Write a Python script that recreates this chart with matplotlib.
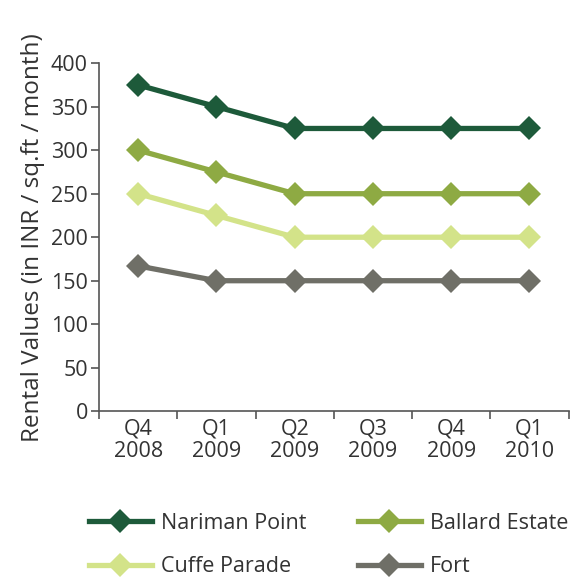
import numpy as np
import matplotlib
matplotlib.use("Agg")
import matplotlib.pyplot as plt

quarters = ["Q4\n2008", "Q1\n2009", "Q2\n2009", "Q3\n2009", "Q4\n2009", "Q1\n2010"]
nariman_point = [375, 350, 325, 325, 325, 325]
ballard_estate = [300, 275, 250, 250, 250, 250]
cuffe_parade = [250, 225, 200, 200, 200, 200]
fort = [167, 150, 150, 150, 150, 150]

series = [
    ("Nariman Point", nariman_point, "#1d5a3a"),
    ("Ballard Estate", ballard_estate, "#8eaa43"),
    ("Cuffe Parade", cuffe_parade, "#d3e389"),
    ("Fort", fort, "#6f6f67"),
]

plt.rcParams["font.family"] = ["Open Sans", "DejaVu Sans"]
text_color = "#333333"


def main():
    fig = plt.figure(figsize=(5.76, 5.80), dpi=100)
    ax = fig.add_axes([0.172, 0.291, 0.815, 0.6])
    ind = np.arange(len(quarters))

    lines = {}
    for name, vals, col in series:
        lines[name], = ax.plot(ind, vals, color=col, lw=3.8, marker="D",
                               markersize=12, markeredgewidth=0, label=name)

    ax.set_xlim(-0.5, len(quarters) - 0.5)
    ax.set_ylim(0, 400)
    ax.set_yticks(np.arange(0, 401, 50))

    # category boundaries get the tick marks, labels sit in the middle
    ax.set_xticks(np.arange(-0.5, len(quarters), 1.0))
    ax.set_xticklabels([])
    ax.set_xticks(ind, minor=True)
    ax.set_xticklabels(quarters, minor=True, linespacing=1.1)
    ax.tick_params(axis="x", which="minor", length=0, pad=5)
    ax.tick_params(axis="both", which="major", length=6, width=1.2, color="#555555")
    ax.tick_params(axis="y", pad=2)
    ax.tick_params(axis="both", which="both", labelsize=15.5, labelcolor=text_color)

    for side in ["top", "right"]:
        ax.spines[side].set_visible(False)
    for side in ["left", "bottom"]:
        ax.spines[side].set_color("#555555")
        ax.spines[side].set_linewidth(1.2)

    ax.set_ylabel("Rental Values (in INR / sq.ft / month)", fontsize=17.5,
                  color=text_color, labelpad=4)

    # two rows: Nariman / Ballard on top, Cuffe / Fort below
    order = ["Nariman Point", "Cuffe Parade", "Ballard Estate", "Fort"]
    fig.legend([lines[n] for n in order], order, loc="lower center", ncol=2,
               frameon=False, fontsize=15.5, bbox_to_anchor=(0.571, -0.014),
               borderpad=0, handlelength=2.9, columnspacing=2.4,
               labelcolor=text_color, handletextpad=0.45, labelspacing=1.05)

    fig.savefig("out.png", dpi=100)


if __name__ == "__main__":
    main()
